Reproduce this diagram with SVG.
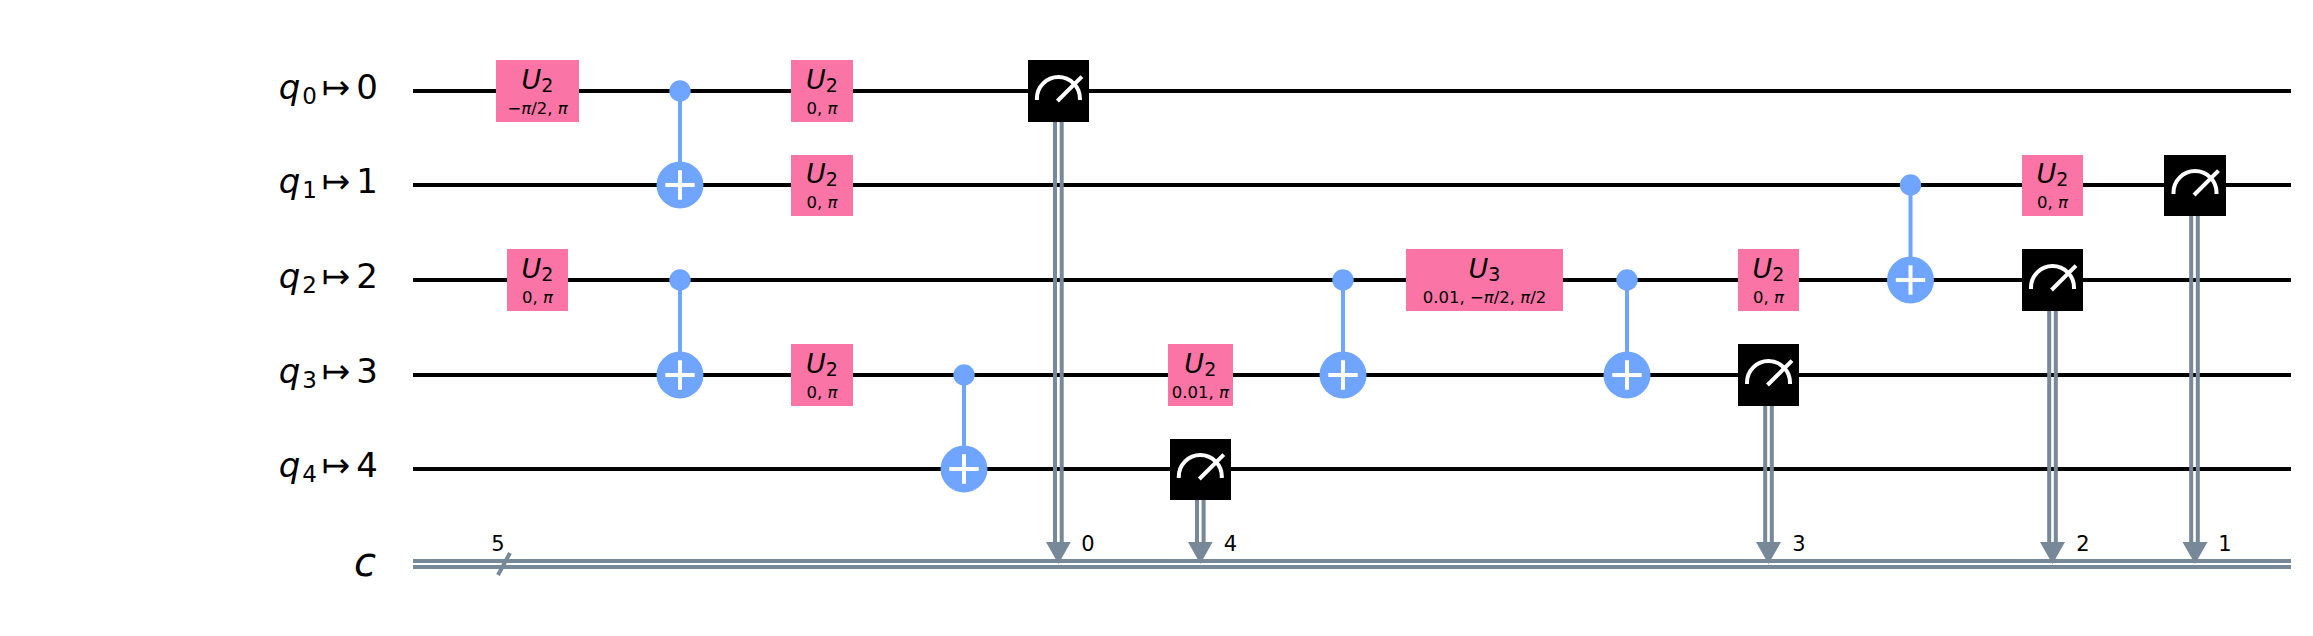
<svg xmlns="http://www.w3.org/2000/svg" width="2313" height="636" viewBox="0 0 2313 636">
<style>
text{font-family:"DejaVu Sans",sans-serif;fill:#000}
.i{font-style:italic}
.w{stroke:#000;stroke-width:4;fill:none}
.c{stroke:#778899;stroke-width:4;fill:none}
.b{stroke:#6FA4FF;stroke-width:4;fill:none}
.g{fill:#FA74A6}
.m{fill:#000}
.lb{font-size:34px;text-anchor:end}
.sm{font-size:23px}
.u{font-size:27px;text-anchor:middle}
.us{font-size:19px}
.p{font-size:16.5px;text-anchor:middle}
.n{font-size:21px;text-anchor:middle}
.ico{stroke:#fff;stroke-width:4;fill:none}
.dot{fill:#6FA4FF}
.ar{fill:#778899}
</style>
<defs>
<g id="meter"><path class="ico" d="M-21.5 9V7.5A21.5 21.5 0 0 1 21.5 7.5V9"/><path class="ico" d="M-1 10L23.5-14.3"/></g>
<g id="target"><circle class="dot" r="23.5"/><path class="ico" d="M-14.7 0H14.7M0-14.7V14.7"/></g>
</defs>
<rect width="2313" height="636" fill="#fff"/>
<g id="labels">
<text class="lb" x="378" y="99"><tspan class="i">q</tspan><tspan class="sm" dy="5" dx="2">0</tspan><tspan dy="-5" dx="5">↦</tspan><tspan dx="6">0</tspan></text>
<text class="lb" x="378" y="193"><tspan class="i">q</tspan><tspan class="sm" dy="5" dx="2">1</tspan><tspan dy="-5" dx="5">↦</tspan><tspan dx="6">1</tspan></text>
<text class="lb" x="378" y="288"><tspan class="i">q</tspan><tspan class="sm" dy="5" dx="2">2</tspan><tspan dy="-5" dx="5">↦</tspan><tspan dx="6">2</tspan></text>
<text class="lb" x="378" y="383"><tspan class="i">q</tspan><tspan class="sm" dy="5" dx="2">3</tspan><tspan dy="-5" dx="5">↦</tspan><tspan dx="6">3</tspan></text>
<text class="lb" x="378" y="477"><tspan class="i">q</tspan><tspan class="sm" dy="5" dx="2">4</tspan><tspan dy="-5" dx="5">↦</tspan><tspan dx="6">4</tspan></text>
<text class="i" x="376" y="576" font-size="40" text-anchor="end">c</text>
</g>
<g id="connectors">
<path class="w" d="M413 91H2291M413 185H2291M413 280H2291M413 375H2291M413 469H2291"/>
<path class="c" d="M413 561H2291M413 567H2291"/>
<path class="c" stroke-width="3.5" d="M498 575L510 553"/>
<path class="b" d="M680 91V185M680 280V375M964 375V469M1343 280V375M1627 280V375M1910.5 185V280"/>
<path class="c" d="M1055 122V544M1061.7 122V544M1197 500V544M1203.6 500V544M1765.2 406V544M1771.8 406V544M2049.2 311V544M2055.8 311V544M2191.2 216V544M2197.8 216V544"/>
<path class="ar" d="M1046 542H1070.800L1058.400 564ZM1188 542H1212.600L1200.300 564ZM1756 542H1781L1768.500 564ZM2040 542H2065L2052.500 564ZM2182.500 542H2207.500L2195 564Z"/>
</g>
<text id="bus-width" class="n" x="498" y="551">5</text>
<g id="u2-q0-1"><rect class="g" x="496" y="60" width="83" height="62"/><text class="u" x="537.5" y="89"><tspan class="i">U</tspan><tspan class="us" dy="3">2</tspan></text><text class="p" x="537.500" y="114">−<tspan class="i">π</tspan>/2, <tspan class="i">π</tspan></text></g>
<g id="u2-q2-1"><rect class="g" x="507" y="249" width="61" height="62"/><text class="u" x="537.5" y="278"><tspan class="i">U</tspan><tspan class="us" dy="3">2</tspan></text><text class="p" x="537.500" y="303">0, <tspan class="i">π</tspan></text></g>
<g id="cx-q0-q1"><circle class="dot" cx="680" cy="91" r="10.700"/><use href="#target" x="680" y="185"/></g>
<g id="cx-q2-q3"><circle class="dot" cx="680" cy="280" r="10.700"/><use href="#target" x="680" y="375"/></g>
<g id="u2-q0-2"><rect class="g" x="791" y="60" width="62" height="62"/><text class="u" x="822" y="89"><tspan class="i">U</tspan><tspan class="us" dy="3">2</tspan></text><text class="p" x="822" y="114">0, <tspan class="i">π</tspan></text></g>
<g id="u2-q1-1"><rect class="g" x="791" y="155" width="62" height="61"/><text class="u" x="822" y="183"><tspan class="i">U</tspan><tspan class="us" dy="3">2</tspan></text><text class="p" x="822" y="208">0, <tspan class="i">π</tspan></text></g>
<g id="u2-q3-1"><rect class="g" x="791" y="344" width="62" height="62"/><text class="u" x="822" y="373"><tspan class="i">U</tspan><tspan class="us" dy="3">2</tspan></text><text class="p" x="822" y="398">0, <tspan class="i">π</tspan></text></g>
<g id="cx-q3-q4"><circle class="dot" cx="964" cy="375" r="10.700"/><use href="#target" x="964" y="469"/></g>
<g id="meas-q0"><rect class="m" x="1028" y="60" width="61" height="62"/><use href="#meter" x="1058.400" y="91"/><text class="n" x="1088" y="551">0</text></g>
<g id="u2-q3-2"><rect class="g" x="1168" y="344" width="65" height="62"/><text class="u" x="1200.300" y="373"><tspan class="i">U</tspan><tspan class="us" dy="3">2</tspan></text><text class="p" x="1200.300" y="398">0.01, <tspan class="i">π</tspan></text></g>
<g id="meas-q4"><rect class="m" x="1170" y="439" width="61" height="61"/><use href="#meter" x="1200.300" y="469"/><text class="n" x="1230.500" y="551">4</text></g>
<g id="cx-q2-q3-b"><circle class="dot" cx="1343" cy="280" r="10.700"/><use href="#target" x="1343" y="375"/></g>
<g id="u3-q2"><rect class="g" x="1406" y="249" width="157" height="62"/><text class="u" x="1484.500" y="278"><tspan class="i">U</tspan><tspan class="us" dy="3">3</tspan></text><text class="p" x="1484.500" y="303">0.01, −<tspan class="i">π</tspan>/2, <tspan class="i">π</tspan>/2</text></g>
<g id="cx-q2-q3-c"><circle class="dot" cx="1627" cy="280" r="10.700"/><use href="#target" x="1627" y="375"/></g>
<g id="u2-q2-2"><rect class="g" x="1738" y="249" width="61" height="62"/><text class="u" x="1768.500" y="278"><tspan class="i">U</tspan><tspan class="us" dy="3">2</tspan></text><text class="p" x="1768.500" y="303">0, <tspan class="i">π</tspan></text></g>
<g id="meas-q3"><rect class="m" x="1738" y="344" width="61" height="62"/><use href="#meter" x="1768.500" y="375"/><text class="n" x="1799" y="551">3</text></g>
<g id="cx-q1-q2"><circle class="dot" cx="1910.500" cy="185" r="10.700"/><use href="#target" x="1910.500" y="280"/></g>
<g id="u2-q1-2"><rect class="g" x="2022" y="155" width="61" height="61"/><text class="u" x="2052.500" y="183"><tspan class="i">U</tspan><tspan class="us" dy="3">2</tspan></text><text class="p" x="2052.500" y="208">0, <tspan class="i">π</tspan></text></g>
<g id="meas-q2"><rect class="m" x="2022" y="249" width="61" height="62"/><use href="#meter" x="2052.500" y="280"/><text class="n" x="2083" y="551">2</text></g>
<g id="meas-q1"><rect class="m" x="2164" y="155" width="62" height="61"/><use href="#meter" x="2195" y="185"/><text class="n" x="2225" y="551">1</text></g>
</svg>
